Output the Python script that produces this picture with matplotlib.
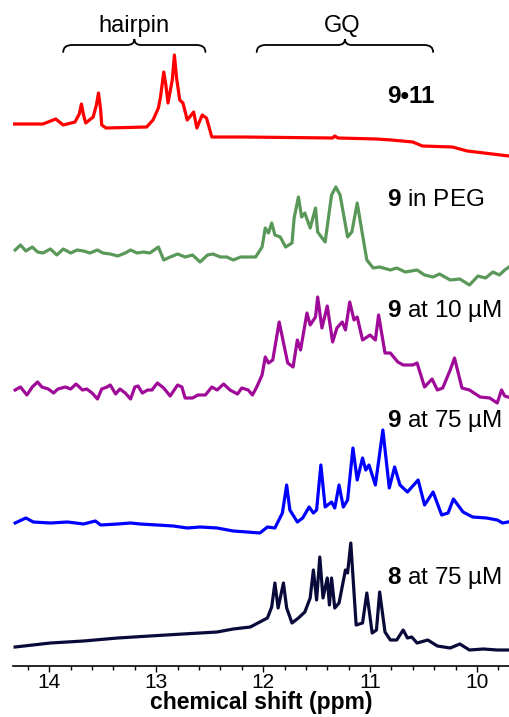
import numpy as np
import matplotlib.pyplot as plt
from matplotlib.path import Path
from matplotlib.patches import PathPatch
from matplotlib.ticker import MultipleLocator

plt.rcParams['font.family'] = ['Liberation Sans', 'DejaVu Sans']
plt.rcParams['mathtext.fontset'] = 'custom'
plt.rcParams['mathtext.rm'] = 'Liberation Sans'
plt.rcParams['mathtext.bf'] = 'Liberation Sans:bold'

# spectra: chemical shift (ppm) and intensity (arb. units)
ppm_911 = [14.34, 14.06, 13.94, 13.87, 13.76, 13.72, 13.70, 13.68, 13.66, 13.59, 13.56, 13.54,
           13.52, 13.51, 13.47, 13.09, 13.03, 12.98, 12.96, 12.93, 12.91, 12.89, 12.85, 12.83,
           12.81, 12.78, 12.75, 12.71, 12.65, 12.62, 12.57, 12.53, 12.48, 12.19, 11.35, 11.33,
           11.30, 10.94, 10.80, 10.60, 10.51, 10.23, 10.09, 9.70]
int_911 = [16, 16, 21, 15, 18, 26, 36, 25, 17, 23, 35, 47,
           30, 15, 12, 13, 20, 32, 43, 68, 55, 37, 60, 85,
           62, 40, 37, 20, 28, 12, 25, 22, 3, 3, 2, 4,
           2, 1, 0, -2, -6, -7, -11, -16]

ppm_peg = [14.32, 14.27, 14.22, 14.16, 14.11, 14.06, 13.99, 13.93, 13.87, 13.80, 13.74,
           13.68, 13.62, 13.55, 13.50, 13.43, 13.36, 13.29, 13.24, 13.18, 13.12, 13.06,
           12.98, 12.93, 12.87, 12.80, 12.73, 12.66, 12.59, 12.52, 12.47, 12.40, 12.34,
           12.28, 12.21, 12.14, 12.07, 12.01, 11.98, 11.95, 11.92, 11.89, 11.84, 11.79,
           11.73, 11.71, 11.67, 11.64, 11.61, 11.56, 11.51, 11.49, 11.42, 11.36, 11.32,
           11.28, 11.21, 11.17, 11.12, 11.07, 11.03, 10.97, 10.91, 10.81, 10.75, 10.67,
           10.56, 10.49, 10.41, 10.35, 10.25, 10.16, 10.07, 9.99, 9.92, 9.85, 9.79,
           9.74, 9.70]
int_peg = [10, 15, 9, 13, 8, 7, 11, 5, 11, 7, 10,
           9, 7, 10, 7, 6, 4, 7, 10, 7, 8, 7,
           13, 0, 3, 6, 3, 5, -2, 5, 6, 3, 3,
           0, 3, 3, 3, 13, 32, 27, 37, 25, 23, 13,
           17, 42, 63, 43, 47, 32, 52, 28, 18, 65, 73,
           65, 23, 28, 57, 25, 0, -8, -7, -10, -8, -12,
           -10, -15, -17, -14, -20, -19, -25, -16, -18, -12, -15,
           -10, -7]

ppm_10 = [14.32, 14.27, 14.21, 14.16, 14.11, 14.07, 14.01, 13.96, 13.92, 13.85, 13.80,
          13.75, 13.69, 13.65, 13.60, 13.55, 13.51, 13.46, 13.43, 13.38, 13.34, 13.29,
          13.24, 13.20, 13.17, 13.13, 13.08, 13.04, 12.99, 12.93, 12.87, 12.80, 12.76,
          12.73, 12.66, 12.61, 12.54, 12.48, 12.43, 12.37, 12.31, 12.24, 12.20, 12.14,
          12.10, 12.06, 12.01, 11.98, 11.95, 11.91, 11.85, 11.77, 11.72, 11.68, 11.65,
          11.59, 11.56, 11.51, 11.49, 11.45, 11.40, 11.35, 11.31, 11.26, 11.23, 11.19,
          11.15, 11.12, 11.07, 11.00, 10.95, 10.92, 10.86, 10.81, 10.74, 10.69, 10.60,
          10.56, 10.49, 10.42, 10.37, 10.32, 10.25, 10.21, 10.14, 10.07, 9.97, 9.88,
          9.81, 9.77, 9.74, 9.71]
int_10 = [0, 3, -5, 3, 8, 3, 1, -3, 1, 3, 1,
          6, 0, 1, -3, -9, 1, 3, 5, -4, 1, -3,
          -9, 3, 4, -3, 0, 0, 7, 2, -6, 5, 3,
          -8, -8, -5, -5, 3, 0, 6, 0, -4, 2, 0,
          -5, 3, 15, 33, 27, 30, 68, 27, 23, 50, 40,
          77, 65, 73, 93, 62, 84, 48, 62, 68, 60, 88,
          70, 73, 50, 55, 50, 75, 37, 37, 28, 25, 25,
          27, 3, 11, 0, 2, 20, 32, 2, 0, -7, -8,
          -13, 0, -6, -7]

ppm_75 = [14.32, 14.22, 14.15, 13.99, 13.83, 13.68, 13.57, 13.52, 13.36, 13.24, 13.15,
          12.99, 12.84, 12.71, 12.59, 12.43, 12.28, 12.15, 12.03, 11.96, 11.89, 11.82,
          11.78, 11.75, 11.68, 11.63, 11.57, 11.53, 11.50, 11.46, 11.42, 11.36, 11.33,
          11.29, 11.25, 11.21, 11.16, 11.12, 11.07, 11.04, 11.01, 10.95, 10.88, 10.82,
          10.77, 10.72, 10.65, 10.55, 10.49, 10.41, 10.33, 10.27, 10.22, 10.13, 10.04,
          9.91, 9.81, 9.76, 9.71]
int_75 = [2, 7, 3, 2, 3, 1, 4, 0, 1, 2, 1,
          0, -1, -3, -2, -3, -6, -7, -8, -2, -3, 12,
          40, 15, 3, 7, 18, 12, 15, 60, 18, 23, 17,
          40, 18, 25, 77, 45, 67, 55, 60, 40, 95, 37,
          58, 40, 33, 45, 20, 33, 10, 12, 26, 13, 8,
          7, 5, 2, 3]

ppm_8 = [14.32, 13.99, 13.68, 13.36, 13.06, 12.75, 12.43, 12.28, 12.12, 11.96, 11.92,
         11.89, 11.86, 11.81, 11.78, 11.73, 11.67, 11.61, 11.56, 11.53, 11.50, 11.47,
         11.44, 11.40, 11.38, 11.36, 11.33, 11.29, 11.23, 11.21, 11.18, 11.13, 11.07,
         11.03, 10.98, 10.94, 10.91, 10.86, 10.81, 10.75, 10.69, 10.65, 10.61, 10.56,
         10.46, 10.37, 10.25, 10.16, 10.07, 9.94, 9.81, 9.71]
int_8 = [3, 7, 9, 12, 14, 16, 18, 21, 23, 32, 43,
         67, 42, 67, 42, 27, 32, 38, 52, 80, 50, 93,
         52, 72, 45, 72, 42, 47, 80, 77, 107, 25, 27,
         57, 17, 20, 58, 18, 10, 10, 20, 12, 13, 7,
         10, 4, 2, 6, 0, 1, 0, 0]

spectra_ppm = [ppm_911, ppm_peg, ppm_10, ppm_75, ppm_8]
spectra_int = [int_911, int_peg, int_10, int_75, int_8]
labels = ['9•11', r'$\mathbf{9}$ in PEG', r'$\mathbf{9}$ at 10 µM',
          r'$\mathbf{9}$ at 75 µM', r'$\mathbf{8}$ at 75 µM']
label_bold = [True, False, False, False, False]
colors = ['#ff0000', '#5a985a', '#a00a98', '#0000ff', '#0a0a3a']
offsets = [526, 406, 276, 141, 16]
label_y = [563, 460, 349, 239, 82]

regions = ['hairpin', 'GQ']
region_lo = [12.54, 10.41]
region_hi = [13.87, 12.06]


def brace(ax, x0, x1, yb, yf, yt, w1=0.085, w2=0.065):
    # x0 > x1 in ppm, drawn left to right on the reversed axis
    xm = (x0 + x1) / 2
    verts = [(x0, yb), (x0, yf), (x0 - w1, yf),
             (xm + w2, yf),
             (xm, yf), (xm, yt),
             (xm, yf), (xm - w2, yf),
             (x1 + w1, yf),
             (x1, yf), (x1, yb)]
    codes = [Path.MOVETO, Path.CURVE3, Path.CURVE3,
             Path.LINETO,
             Path.CURVE3, Path.CURVE3,
             Path.CURVE3, Path.CURVE3,
             Path.LINETO,
             Path.CURVE3, Path.CURVE3]
    ax.add_patch(PathPatch(Path(verts, codes), fill=False, lw=1.3,
                           edgecolor='black', capstyle='round'))


fig = plt.figure(figsize=(5.09, 7.17), dpi=100)
ax = fig.add_axes([13 / 509, 51 / 717, 496 / 509, 666 / 717])

for x, y, c, off in zip(spectra_ppm, spectra_int, colors, offsets):
    ax.plot(x, np.array(y) + off, color=c, lw=2.3, solid_joinstyle='round')

for lab, ly, b in zip(labels, label_y, label_bold):
    ax.text(10.84, ly, lab, fontsize=17.5, ha='left', va='baseline',
            fontweight='bold' if b else 'normal')

for name, lo, hi in zip(regions, region_lo, region_hi):
    brace(ax, hi, lo, 614, 621, 627)
    ax.text((hi + lo) / 2 + 0.03 * (name == 'GQ'), 634, name, fontsize=17,
            ha='center', va='baseline')

ax.set_xlim(14.34, 9.70)
ax.set_ylim(0, 666)
for s in ['left', 'right', 'top']:
    ax.spines[s].set_visible(False)
ax.spines['bottom'].set_linewidth(1.2)
ax.set_yticks([])
ax.set_xticks([14, 13, 12, 11, 10])
ax.xaxis.set_minor_locator(MultipleLocator(0.2))
ax.tick_params(axis='x', which='major', length=4, width=1, labelsize=15, pad=1)
ax.tick_params(axis='x', which='minor', length=3, width=1)
ax.set_xlabel('chemical shift (ppm)', fontsize=16.5, fontweight='bold', labelpad=-1)

fig.savefig('out.png', dpi=100)
